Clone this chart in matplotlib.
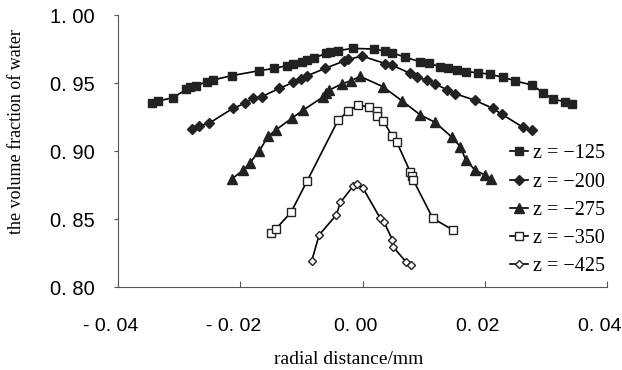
import matplotlib
matplotlib.use("Agg")
import matplotlib.pyplot as plt
import matplotlib.transforms as mtransforms

# radial distance (mm) and water volume fraction
x_125 = [-0.0345, -0.0334, -0.0310, -0.0288, -0.0282, -0.0272, -0.0255, -0.0245,
         -0.0214, -0.0170, -0.0144, -0.0124, -0.0113, -0.0099, -0.0091, -0.0080,
         -0.0059, -0.0053, -0.0040, -0.0016, 0.0018, 0.0037, 0.0048, 0.0070,
         0.0094, 0.0108, 0.0127, 0.0140, 0.0154, 0.0170, 0.0189, 0.0209,
         0.0230, 0.0249, 0.0277, 0.0296, 0.0311, 0.0331, 0.0342]
y_125 = [0.9351, 0.9368, 0.9392, 0.9454, 0.9468, 0.9480, 0.9510, 0.9522,
         0.9554, 0.9590, 0.9608, 0.9627, 0.9638, 0.9654, 0.9669, 0.9684,
         0.9718, 0.9726, 0.9738, 0.9755, 0.9750, 0.9735, 0.9723, 0.9689,
         0.9657, 0.9645, 0.9620, 0.9608, 0.9596, 0.9583, 0.9576, 0.9564,
         0.9542, 0.9517, 0.9485, 0.9429, 0.9382, 0.9362, 0.9346]

x_200 = [-0.0279, -0.0267, -0.0251, -0.0212, -0.0192, -0.0179, -0.0165, -0.0136,
         -0.0113, -0.0101, -0.0090, -0.0061, -0.0030, -0.0023, -0.0001, 0.0037,
         0.0048, 0.0078, 0.0089, 0.0105, 0.0118, 0.0138, 0.0152, 0.0184,
         0.0213, 0.0228, 0.0262, 0.0277]
y_200 = [0.9162, 0.9184, 0.9204, 0.9314, 0.9351, 0.9388, 0.9399, 0.9461,
         0.9505, 0.9529, 0.9554, 0.9608, 0.9662, 0.9673, 0.9699, 0.9643,
         0.9632, 0.9571, 0.9546, 0.9520, 0.9495, 0.9451, 0.9421, 0.9373,
         0.9314, 0.9270, 0.9176, 0.9151]

x_275 = [-0.0214, -0.0195, -0.0184, -0.0169, -0.0154, -0.0142, -0.0116, -0.0097,
         -0.0064, -0.0060, -0.0054, -0.0034, -0.0018, -0.0004, 0.0033, 0.0065,
         0.0094, 0.0119, 0.0146, 0.0160, 0.0169, 0.0184, 0.0200, 0.0211]
y_275 = [0.8794, 0.8860, 0.8914, 0.9000, 0.9110, 0.9154, 0.9240, 0.9301,
         0.9399, 0.9424, 0.9449, 0.9493, 0.9518, 0.9549, 0.9474, 0.9368,
         0.9267, 0.9210, 0.9103, 0.9032, 0.8934, 0.8860, 0.8824, 0.8794]

x_350 = [-0.0149, -0.0142, -0.0117, -0.0091, -0.0040, -0.0023, -0.0007, 0.0011,
         0.0023, 0.0024, 0.0034, 0.0049, 0.0056, 0.0078, 0.0081, 0.0083,
         0.0115, 0.0148]
y_350 = [0.8395, 0.8426, 0.8549, 0.8776, 0.9226, 0.9296, 0.9336, 0.9324,
         0.9296, 0.9257, 0.9221, 0.9107, 0.9066, 0.8848, 0.8816, 0.8787,
         0.8505, 0.8419]

x_425 = [-0.0083, -0.0071, -0.0043, -0.0036, -0.0015, -0.0009, 0.0001, 0.0029,
         0.0035, 0.0049, 0.0050, 0.0071, 0.0080]
y_425 = [0.8193, 0.8382, 0.8529, 0.8623, 0.8743, 0.8757, 0.8726, 0.8505,
         0.8480, 0.8346, 0.8296, 0.8186, 0.8162]

xticks = [-0.04, -0.02, 0.00, 0.02, 0.04]
xtick_labels = ['- 0. 04', '- 0. 02', '0. 00', '0. 02', '0. 04']
yticks = [0.80, 0.85, 0.90, 0.95, 1.00]
ytick_labels = ['0. 80', '0. 85', '0. 90', '0. 95', '1. 00']

serif = 'Liberation Serif'
sans = 'Liberation Sans'

fig = plt.figure(figsize=(6.22, 3.70), dpi=100)
ax = fig.add_axes([0.1897, 0.2243, 0.7862, 0.7351])

ax.plot(x_125, y_125, color='black', lw=1.2, marker='s', ms=5.5,
        mfc='#222222', mec='#222222', label='z = \u2212125')
ax.plot(x_200, y_200, color='black', lw=1.2, marker='D', ms=5,
        mfc='#222222', mec='#222222', label='z = \u2212200')
ax.plot(x_275, y_275, color='black', lw=1.2, marker='^', ms=6.5,
        mfc='#222222', mec='#222222', label='z = \u2212275')
ax.plot(x_350, y_350, color='black', lw=1.2, marker='s', ms=5.5,
        mfc='white', mec='#222222', mew=1.0, label='z = \u2212350')
ax.plot(x_425, y_425, color='black', lw=1.2, marker='D', ms=3.8,
        mfc='white', mec='#222222', mew=1.0, label='z = \u2212425')

ax.set_xlim(-0.04, 0.04)
ax.set_ylim(0.80, 1.00)

ax.spines['top'].set_visible(False)
ax.spines['right'].set_visible(False)
for s in ['left', 'bottom']:
    ax.spines[s].set_color('#555555')
    ax.spines[s].set_linewidth(0.8)

ax.set_xticks(xticks)
ax.set_xticklabels(xtick_labels, fontfamily=sans, fontsize=14)
ax.set_yticks(yticks)
ax.set_yticklabels(ytick_labels, fontfamily=sans, fontsize=14.5)
ax.tick_params(axis='x', direction='in', length=4, width=0.8, color='#555555', pad=22)
ax.tick_params(axis='y', direction='out', length=3, width=0.8, color='#555555', pad=14)

# tick labels in the original sit a little left of their ticks
shift = mtransforms.ScaledTranslation(-5 / 72, 0, fig.dpi_scale_trans)
for lab in ax.get_xticklabels():
    lab.set_transform(lab.get_transform() + shift)

ax.set_xlabel('radial distance/mm', fontfamily=serif, fontsize=14)
ax.xaxis.set_label_coords(0.472, -0.235)
ax.set_ylabel('the volume fraction of water', fontfamily=serif, fontsize=13)
ax.yaxis.set_label_coords(-0.19, 0.57)

ax.legend(loc='upper left', bbox_to_anchor=(0.82, 0.61), bbox_transform=fig.transFigure,
          frameon=False, prop={'family': serif, 'size': 14.5}, handlelength=0.9,
          handletextpad=0.25, labelspacing=0.45, borderpad=0, borderaxespad=0)

fig.savefig('out.png', dpi=100)
